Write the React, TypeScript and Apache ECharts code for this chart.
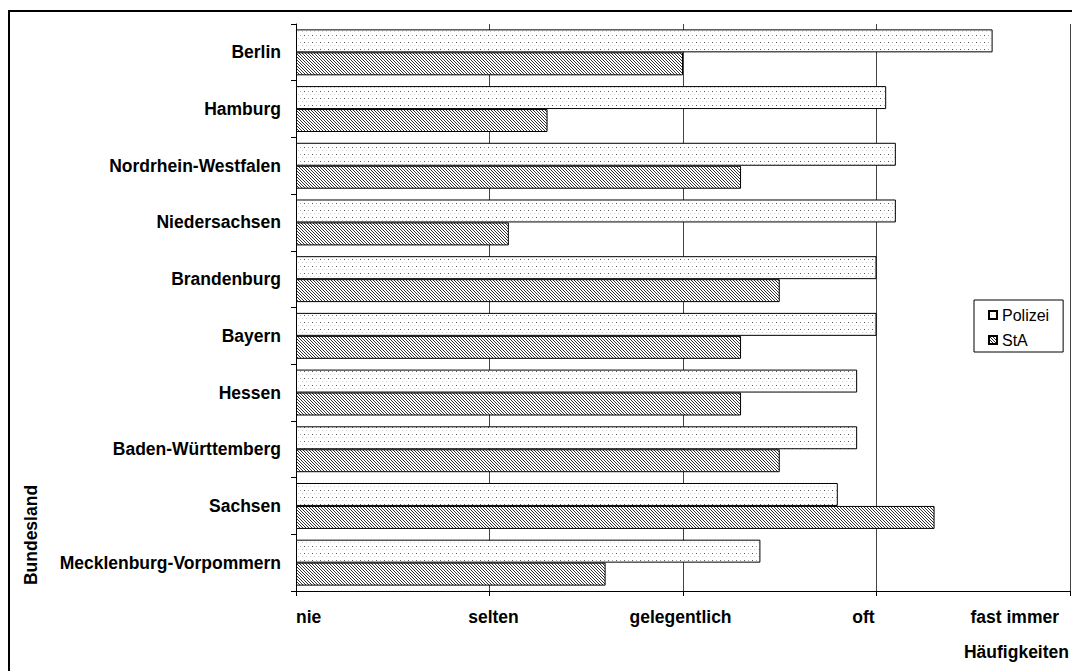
import { useEffect, useRef } from 'react';
import * as echarts from 'echarts';

// Federal states, top to bottom
const categories = [
  'Berlin',
  'Hamburg',
  'Nordrhein-Westfalen',
  'Niedersachsen',
  'Brandenburg',
  'Bayern',
  'Hessen',
  'Baden-Württemberg',
  'Sachsen',
  'Mecklenburg-Vorpommern',
];

// Frequency scores (0 = nie … 4 = fast immer)
const polizei = [3.6, 3.05, 3.1, 3.1, 3.0, 3.0, 2.9, 2.9, 2.8, 2.4];
const sta = [2.0, 1.3, 2.3, 1.1, 2.5, 2.3, 2.3, 2.5, 3.3, 1.6];

const frequencyLabels = ['nie', 'selten', 'gelegentlich', 'oft', 'fast immer'];

const FONT = '"Liberation Sans", Arial, Helvetica, sans-serif';
const LABEL_SIZE = 17.5;

function makeTile(w: number, h: number, paint: (ctx: CanvasRenderingContext2D) => void) {
  const c = document.createElement('canvas');
  c.width = w;
  c.height = h;
  const ctx = c.getContext('2d')!;
  ctx.fillStyle = '#ffffff';
  ctx.fillRect(0, 0, w, h);
  paint(ctx);
  return c;
}

function dotPattern() {
  const w = 8;
  const h = 7;
  const c = makeTile(w, h, (ctx) => {
    ctx.fillStyle = '#555555';
    ctx.fillRect(0, 0, 1, 1);
    ctx.fillStyle = '#aaaaaa';
    ctx.fillRect(4, 0, 1, 1);
    ctx.fillStyle = '#d0d0d0';
    ctx.fillRect(2, 3, 1, 1);
    ctx.fillRect(6, 3, 1, 1);
  });
  return { image: c.toDataURL(), repeat: 'repeat', imageWidth: w, imageHeight: h } as any;
}

function hatchPattern() {
  const n = 3;
  const c = makeTile(n, n, (ctx) => {
    ctx.fillStyle = '#333333';
    for (let i = 0; i < n; i++) ctx.fillRect(i, i, 1, 1);
  });
  return { image: c.toDataURL(), repeat: 'repeat', imageWidth: n, imageHeight: n } as any;
}

// Per-label horizontal nudges for the frequency axis
const labelStyleKeys = ['a', 'b', 'c', 'd', 'e'];
const labelRich: Record<string, any> = {
  a: { padding: [0, 0, 0, 0] },
  b: { padding: [0, 0, 0, 8] },
  c: { padding: [0, 5, 0, 0] },
  d: { padding: [0, 26, 0, 0] },
  e: { padding: [0, 11, 0, 0] },
};
Object.keys(labelRich).forEach((k) => {
  labelRich[k] = {
    ...labelRich[k],
    fontSize: LABEL_SIZE,
    fontWeight: 'bold',
    fontFamily: FONT,
    color: '#000',
  };
});

export default function App() {
  const ref = useRef<HTMLDivElement>(null);

  useEffect(() => {
    if (!ref.current) return;
    const chart = echarts.init(ref.current, null, { renderer: 'svg' });

    chart.setOption({
      animation: false,
      backgroundColor: '#ffffff',
      grid: { left: 296, right: 2, top: 24, bottom: 80, containLabel: false },
      legend: {
        orient: 'vertical',
        left: 974,
        top: 300,
        padding: [7, 14, 4, 14],
        borderColor: '#000',
        borderWidth: 1,
        itemWidth: 8,
        itemHeight: 8,
        itemGap: 9,
        icon: 'rect',
        textStyle: { fontSize: 16, fontFamily: FONT, color: '#000', lineHeight: 16 },
        data: ['Polizei', 'StA'],
      },
      xAxis: {
        type: 'value',
        min: 0,
        max: 4,
        interval: 1,
        axisLine: { show: true, lineStyle: { color: '#000', width: 1 } },
        axisTick: { show: true, length: 5, lineStyle: { color: '#000' } },
        splitLine: { show: true, lineStyle: { color: '#444', width: 1 } },
        axisLabel: {
          margin: 17,
          alignMinLabel: 'left',
          alignMaxLabel: 'right',
          formatter: (v: number) => {
            const i = Math.round(v);
            return `{${labelStyleKeys[i]}|${frequencyLabels[i]}}`;
          },
          rich: labelRich,
        },
      },
      yAxis: {
        type: 'category',
        data: categories,
        inverse: true,
        axisLine: { show: true, lineStyle: { color: '#000', width: 1 } },
        axisTick: { show: true, length: 5, lineStyle: { color: '#000' } },
        axisLabel: {
          margin: 15,
          fontSize: LABEL_SIZE,
          fontWeight: 'bold',
          fontFamily: FONT,
          color: '#000',
        },
        splitLine: { show: false },
      },
      series: [
        {
          name: 'Polizei',
          type: 'bar',
          data: polizei,
          barGap: '0%',
          barCategoryGap: '19%',
          itemStyle: { color: dotPattern(), borderColor: '#000', borderWidth: 1 },
        },
        {
          name: 'StA',
          type: 'bar',
          data: sta,
          barGap: '0%',
          barCategoryGap: '19%',
          itemStyle: { color: hatchPattern(), borderColor: '#000', borderWidth: 1 },
        },
      ],
      graphic: [
        {
          type: 'rect',
          silent: true,
          z: -1,
          shape: { x: 9, y: 11, width: 1300, height: 900 },
          style: { fill: 'none', stroke: '#000', lineWidth: 2 },
        },
        {
          type: 'text',
          silent: true,
          x: 1069,
          y: 652,
          style: {
            text: 'Häufigkeiten',
            fontSize: LABEL_SIZE,
            fontWeight: 'bold',
            fontFamily: FONT,
            fill: '#000',
            align: 'right',
            verticalAlign: 'middle',
          },
        },
        {
          type: 'text',
          silent: true,
          x: 31,
          y: 535,
          rotation: Math.PI / 2,
          style: {
            text: 'Bundesland',
            fontSize: LABEL_SIZE,
            fontWeight: 'bold',
            fontFamily: FONT,
            fill: '#000',
            align: 'center',
            verticalAlign: 'middle',
          },
        },
      ],
    });

    return () => chart.dispose();
  }, []);

  return (
    <div
      ref={ref}
      style={{ position: 'fixed', left: 0, top: 0, width: 1072, height: 671 }}
    />
  );
}
